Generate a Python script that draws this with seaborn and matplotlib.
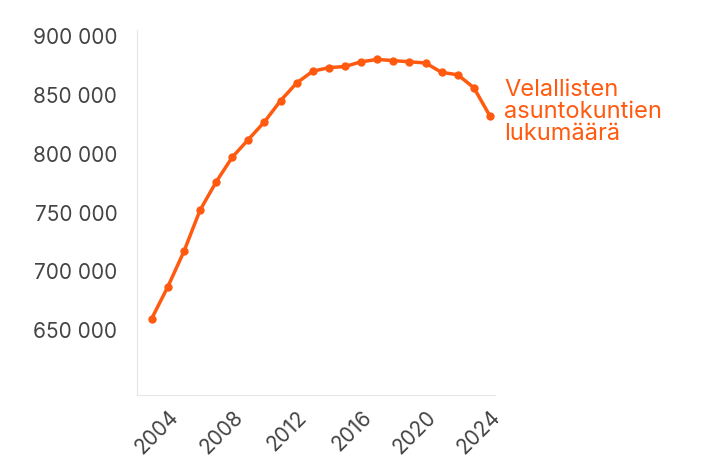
import matplotlib
matplotlib.use("Agg")
import matplotlib.pyplot as plt
import seaborn as sns
import pandas as pd

years = list(range(2003, 2025))
households = [660000, 687000, 717000, 752000, 776000, 797000, 812000, 827000,
              845000, 860000, 870000, 873000, 874000, 878000, 880000, 879000,
              878000, 877000, 869000, 867000, 856000, 832000]
label = "Velallisten\nasuntokuntien\nlukumäärä"
orange = "#ff5a0f"

sns.set_style("white")
plt.rcParams['font.family'] = ['Inter', 'DejaVu Sans']

df = pd.DataFrame({"year": years, "value": households})
fig = plt.figure(figsize=(7.16, 4.76), dpi=100)
ax = fig.add_axes([0.191, 0.170, 0.50, 0.767])
sns.lineplot(data=df, x="year", y="value", ax=ax, color=orange, linewidth=2.5,
             marker="o", markersize=6, markeredgewidth=0)

ax.set_xlim(2002.07, 2024.3)
ax.set_ylim(595000, 905000)
ax.set_xticks(range(2004, 2025, 4))
ax.set_yticks(range(650000, 900001, 50000))
ax.set_yticklabels([f"{v:,}".replace(",", " ") for v in range(650000, 900001, 50000)])
ax.tick_params(axis="x", labelrotation=45, labelsize=15, colors="#444444", length=5, color="#dddddd")
ax.tick_params(axis="y", labelsize=15, colors="#444444", length=0, pad=14)
for lab in ax.get_xticklabels():
    lab.set_ha("right")
    lab.set_rotation_mode("anchor")
for s in ["top", "right"]:
    ax.spines[s].set_visible(False)
for s in ["left", "bottom"]:
    ax.spines[s].set_color("#e6e6e6")
ax.set_xlabel("")
ax.set_ylabel("")
ax.text(years[-1] + 0.9, households[-1] + 31000, label, color=orange, fontsize=17,
        va="top", ha="left", linespacing=1.0, clip_on=False)

fig.savefig("out.png", dpi=100)
